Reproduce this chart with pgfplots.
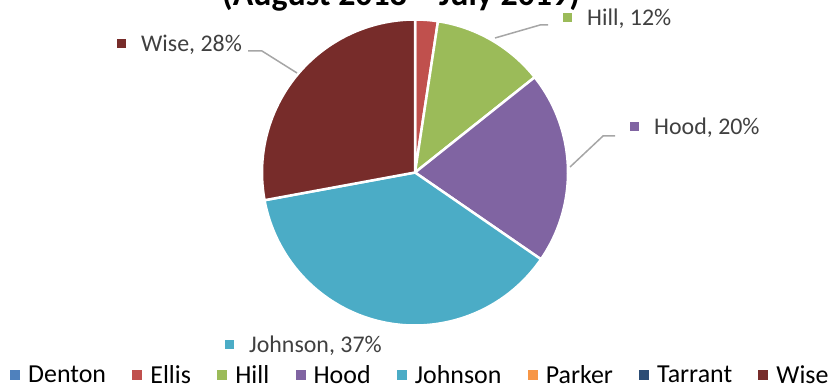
\documentclass[border=0pt]{standalone}
\usepackage{pgfplots}
\pgfplotsset{compat=1.18}
\usepackage{pgfplotstable}
\usepackage{fontspec}
\setmainfont{Carlito}
\definecolor{cDenton}{HTML}{4F81BD}
\definecolor{cEllis}{HTML}{C0504D}
\definecolor{cHill}{HTML}{9BBB59}
\definecolor{cHood}{HTML}{8064A2}
\definecolor{cJohnson}{HTML}{4BACC6}
\definecolor{cParker}{HTML}{F79646}
\definecolor{cTarrant}{HTML}{2C4D75}
\definecolor{cWise}{HTML}{772C2A}
\definecolor{lblgrey}{HTML}{404040}
\definecolor{leadgrey}{HTML}{A6A6A6}

\pgfplotstableread{
name value col
Denton 0 cDenton
Ellis 2.4 cEllis
Hill 11.9 cHill
Hood 20.3 cHood
Johnson 37.5 cJohnson
Parker 0 cParker
Tarrant 0 cTarrant
Wise 27.9 cWise
}\piedata

\newcommand{\lbl}[2]{\textcolor{#1}{\raisebox{3.5bp}{\rule{9bp}{9bp}}}\hspace{15bp}#2}

\begin{document}
\begin{tikzpicture}[x=1bp,y=1bp]
\useasboundingbox (0,0) rectangle (833,386);
\begin{axis}[at={(0,0)}, anchor=south west, scale only axis,
  width=833bp, height=386bp, xmin=0, xmax=833, ymin=0, ymax=386,
  hide axis, clip=false,
  legend columns=-1,
  legend style={draw=none, fill=none, inner sep=0pt, at={(0.012,0.0285)}, anchor=west,
    font=\fontsize{26}{30}\selectfont,
    nodes={inner sep=0pt},
    /tikz/every odd column/.append style={column sep=8bp},
    /tikz/every even column/.append style={column sep=26.3bp}},
  legend image code/.code={\fill[#1] (0bp,-5bp) rectangle (10bp,5bp);}
]
\pgfplotstablegetrowsof{\piedata}
\pgfmathtruncatemacro\N{\pgfplotsretval-1}
\def\cum{0}
\pgfplotsforeachungrouped \i in {0,...,\N}{%
  \pgfplotstablegetelem{\i}{value}\of\piedata \let\v\pgfplotsretval
  \pgfplotstablegetelem{\i}{col}\of\piedata \let\c\pgfplotsretval
  \pgfmathsetmacro\a{90-3.6*\cum}%
  \pgfmathsetmacro\b{90-3.6*(\cum+\v)}%
  \ifdim\v pt>0pt
    \edef\tmp{\noexpand\filldraw[fill=\c, draw=white, line width=2.5bp, line join=round] (axis cs:415,213.5) -- ++(\a:153bp) arc[start angle=\a, end angle=\b, radius=153bp] -- cycle;}%
    \tmp
  \fi
  \pgfmathsetmacro\cum{\cum+\v}%
}
\addlegendimage{fill=cDenton, draw=none}\addlegendentry{Denton}
\addlegendimage{fill=cEllis, draw=none}\addlegendentry{Ellis}
\addlegendimage{fill=cHill, draw=none}\addlegendentry{Hill}
\addlegendimage{fill=cHood, draw=none}\addlegendentry{Hood}
\addlegendimage{fill=cJohnson, draw=none}\addlegendentry{Johnson}
\addlegendimage{fill=cParker, draw=none}\addlegendentry{Parker}
\addlegendimage{fill=cTarrant, draw=none}\addlegendentry{Tarrant}
\addlegendimage{fill=cWise, draw=none}\addlegendentry{Wise}

\draw[leadgrey, line width=1.5bp] (axis cs:248,335) -- (axis cs:262,335) -- (axis cs:297,313);
\draw[leadgrey, line width=1.5bp] (axis cs:548,361) -- (axis cs:540,361) -- (axis cs:495,348);
\draw[leadgrey, line width=1.5bp] (axis cs:615,250) -- (axis cs:603,250) -- (axis cs:570,219);

\node[anchor=base west, inner sep=0pt, text=lblgrey, font=\fontsize{24}{28}\selectfont] at (axis cs:117,334) {\lbl{cWise}{Wise, 28\%}};
\node[anchor=base west, inner sep=0pt, text=lblgrey, font=\fontsize{24}{28}\selectfont] at (axis cs:563,360) {\lbl{cHill}{Hill, 12\%}};
\node[anchor=base west, inner sep=0pt, text=lblgrey, font=\fontsize{24}{28}\selectfont] at (axis cs:630,251) {\lbl{cHood}{Hood, 20\%}};
\node[anchor=base west, inner sep=0pt, text=lblgrey, font=\fontsize{24}{28}\selectfont] at (axis cs:225,34) {\lbl{cJohnson}{Johnson, 37\%}};
\end{axis}
\node[anchor=base, inner sep=0pt, font=\bfseries\fontsize{34}{40}\selectfont] at (401,381) {(August 2018 – July 2019)};
\end{tikzpicture}
\end{document}
